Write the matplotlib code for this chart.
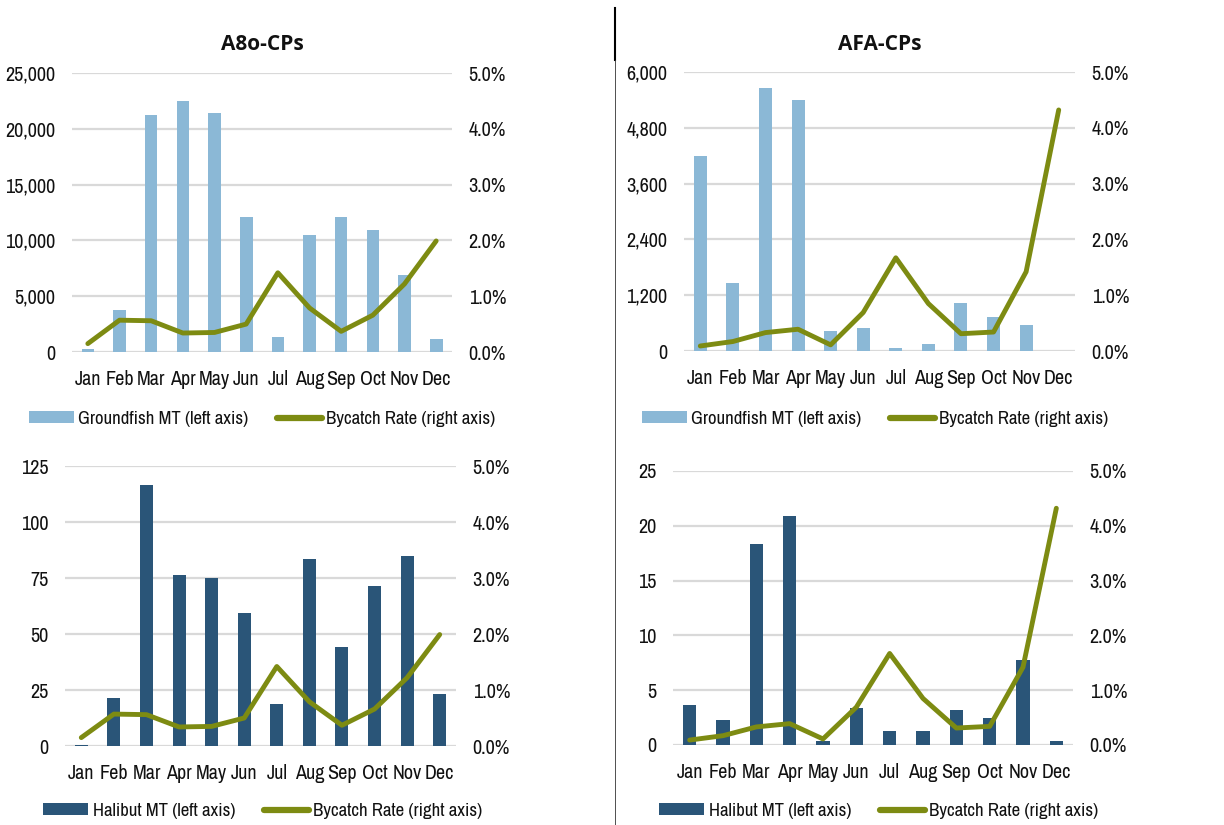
import matplotlib
matplotlib.use("Agg")
import matplotlib.pyplot as plt
from matplotlib.lines import Line2D
from matplotlib.patches import Patch
from matplotlib.ticker import FuncFormatter

months = ["Jan", "Feb", "Mar", "Apr", "May", "Jun", "Jul", "Aug", "Sep", "Oct", "Nov", "Dec"]

a80_groundfish = [300, 3800, 21200, 22500, 21400, 12100, 1300, 10500, 12100, 10900, 6900, 1200]
a80_halibut = [0.5, 21.4, 116.4, 76.2, 75.2, 59.2, 18.6, 83.4, 44.1, 71.5, 84.6, 23.3]
a80_rate = [0.0015, 0.0057, 0.0056, 0.0034, 0.0035, 0.0050, 0.0142, 0.0079, 0.0037, 0.0066, 0.0122, 0.0199]

afa_groundfish = [4190, 1455, 5656, 5391, 423, 502, 72, 158, 1025, 738, 552, 0]
afa_halibut = [3.68, 2.28, 18.32, 20.93, 0.39, 3.40, 1.25, 1.28, 3.19, 2.49, 7.78, 0.36]
afa_rate = [0.0009, 0.0017, 0.0033, 0.0039, 0.0011, 0.0069, 0.0167, 0.0085, 0.0031, 0.0034, 0.0142, 0.0432]

W, H = 1224, 825
LIGHT = "#8BB8D6"
DARK = "#2A5578"
OLIVE = "#7D8B12"
GRID = "#D9D9D9"
NARROW = ["Archivo Narrow", "Liberation Sans", "DejaVu Sans"]
FS = 14.5
LFS = 13.5
TXT = "#111111"

fig = plt.figure(figsize=(W / 100, H / 100), dpi=100)


def axes_px(left, right, top, bottom):
    return fig.add_axes([left / W, 1 - bottom / H, (right - left) / W, (bottom - top) / H])


def panel(box, values, rate, ymax, ystep, color, left_fmt, title, bar_label, legend_xy):
    ax = axes_px(*box)
    x = list(range(len(months)))
    ax.bar(x, values, width=0.4, color=color, zorder=2)
    ax.set_xlim(-0.5, len(months) - 0.5)
    ax.set_ylim(0, ymax)
    ticks = [i * ystep for i in range(int(round(ymax / ystep)) + 1)]
    ax.set_yticks(ticks)
    ax.yaxis.set_major_formatter(FuncFormatter(left_fmt))
    ax.set_xticks(x)
    ax.set_xticklabels(months)
    ax.grid(axis="y", color=GRID, lw=1.6, zorder=0)
    ax.set_axisbelow(True)
    for s in ax.spines.values():
        s.set_visible(False)
    ax.tick_params(axis="both", length=0, labelsize=FS, colors=TXT)
    ax.tick_params(axis="y", pad=12)
    ax.tick_params(axis="x", pad=13)
    for lab in ax.get_xticklabels() + ax.get_yticklabels():
        lab.set_family(NARROW)

    ax2 = ax.twinx()
    ax2.plot(x, rate, color=OLIVE, lw=3.5, solid_capstyle="round", solid_joinstyle="round", zorder=3)
    ax2.set_ylim(0, 0.05)
    ax2.set_yticks([0, 0.01, 0.02, 0.03, 0.04, 0.05])
    ax2.yaxis.set_major_formatter(FuncFormatter(lambda v, p: f"{v * 100:.1f}%"))
    for s in ax2.spines.values():
        s.set_visible(False)
    ax2.tick_params(axis="y", length=0, labelsize=FS, colors=TXT, pad=12)
    for lab in ax2.get_yticklabels():
        lab.set_family(NARROW)

    if title:
        cx = (box[0] + box[1]) / 2
        fig.text(cx / W, 1 - 44 / H, title, ha="center", va="center",
                 fontsize=15, fontweight="bold", family=["Open Sans", "DejaVu Sans"], color="#111111")

    handles = [Patch(facecolor=color, edgecolor="none"),
               Line2D([0], [0], color=OLIVE, lw=4.5, solid_capstyle="round")]
    labels = [bar_label, "Bycatch Rate (right axis)"]
    leg = fig.legend(handles, labels, loc="center", ncol=2, frameon=False,
                     bbox_to_anchor=(legend_xy[0] / W, 1 - legend_xy[1] / H),
                     prop={"family": NARROW, "size": LFS},
                     handlelength=2.4, handleheight=0.6, handletextpad=0.25, columnspacing=1.5,
                     borderaxespad=0, borderpad=0)
    for t in leg.get_texts():
        t.set_color(TXT)
    return ax


comma = lambda v, p: f"{int(v):,}"
plain = lambda v, p: f"{int(v)}"

panel((72, 452, 73, 352), a80_groundfish, a80_rate, 25000, 5000, LIGHT, comma,
      "A8o-CPs", "Groundfish MT (left axis)", (262, 419))
panel((684, 1075, 72, 351), afa_groundfish, afa_rate, 6000, 1200, LIGHT, comma,
      "AFA-CPs", "Groundfish MT (left axis)", (875, 419))
panel((65, 456, 466, 746), a80_halibut, a80_rate, 125, 25, DARK, plain,
      None, "Halibut MT (left axis)", (263, 811))
panel((673, 1073, 471, 745), afa_halibut, afa_rate, 25, 5, DARK, plain,
      None, "Halibut MT (left axis)", (879, 811))

# separator lines
fig.add_artist(Line2D([615 / W, 615 / W], [1 - 8 / H, 1 - 60 / H], color="black", lw=1.5))
fig.add_artist(Line2D([615 / W, 615 / W], [1 - 60 / H, 0], color="#333333", lw=0.6))

fig.savefig("out.png", dpi=100)
